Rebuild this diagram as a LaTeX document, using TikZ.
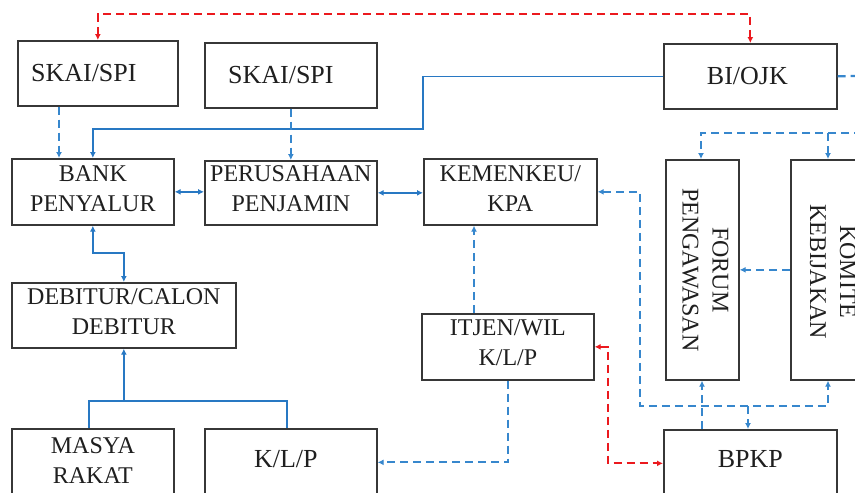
\documentclass[tikz,border=0pt]{standalone}
\usepackage{fontspec}
\setmainfont{Liberation Serif}
\usetikzlibrary{arrows.meta,calc}
\definecolor{lnblue}{RGB}{40,120,195}
\definecolor{lndash}{RGB}{55,135,205}
\definecolor{lnred}{RGB}{235,25,30}
\definecolor{bxgray}{RGB}{55,55,55}
\begin{document}
\begin{tikzpicture}[x=1pt,y=-1pt,
  box/.style={draw=bxgray, line width=1.7pt, inner sep=0pt, anchor=north west, fill=white},
  txt/.style={font=\fontsize{24}{30}\selectfont, align=center, text=black!88, inner sep=0pt},
  big/.style={font=\fontsize{26}{30}\selectfont},
  bsolid/.style={draw=lnblue, line width=1.7pt},
  bdash/.style={draw=lndash, line width=2.2pt, dash pattern=on 8pt off 5pt},
  rdash/.style={draw=lnred, line width=2pt, dash pattern=on 8pt off 5pt},
  tip/.style={>={Latex[length=6pt,width=6pt]}}
]
\useasboundingbox (0,0) rectangle (855,493);
\clip (0,0) rectangle (855,493);
\fill[white] (0,0) rectangle (855,493);

% boxes
\node[box, minimum width=160pt, minimum height=65pt] (skaiA) at (17,40) {};
\node[box, minimum width=172pt, minimum height=65pt] (skaiB) at (204,42) {};
\node[box, minimum width=173pt, minimum height=65pt] (biojk) at (663,43) {};
\node[box, minimum width=162pt, minimum height=66pt] (bank) at (11,158) {};
\node[box, minimum width=172pt, minimum height=64pt] (perus) at (204,160) {};
\node[box, minimum width=173pt, minimum height=66pt] (kemen) at (423,158) {};
\node[box, minimum width=73pt, minimum height=220pt] (forum) at (665,159) {};
\node[box, minimum width=74pt, minimum height=220pt] (komite) at (790,159) {};
\node[box, minimum width=224pt, minimum height=65pt] (debitur) at (11,282) {};
\node[box, minimum width=172pt, minimum height=66pt] (itjen) at (421,313) {};
\node[box, minimum width=162pt, minimum height=67pt] (masya) at (11,428) {};
\node[box, minimum width=172pt, minimum height=67pt] (klp) at (204,428) {};
\node[box, minimum width=173pt, minimum height=67pt] (bpkp) at (663,429) {};

% texts
\node[txt,big] (tskaiA) at ([xshift=-14pt]skaiA.center) {SKAI/SPI};
\node[txt,big] (tskaiB) at ([xshift=-10pt]skaiB.center) {SKAI/SPI};
\node[txt,big] (tbiojk) at ([xshift=-3pt]biojk.center) {BI/OJK};
\node[txt] (tbank) at ([yshift=3pt]bank.center) {BANK\\PENYALUR};
\node[txt] (tperus) at ([yshift=4pt]perus.center) {PERUSAHAAN\\PENJAMIN};
\node[txt] (tkemen) at ([yshift=3pt]kemen.center) {KEMENKEU/\\KPA};
\node[txt, rotate=-90] (tforum) at ([xshift=3pt]forum.center) {FORUM\\PENGAWASAN};
\node[txt, rotate=-90] (tkomite) at ([xshift=5pt,yshift=-2pt]komite.center) {KOMITE\\KEBIJAKAN};
\node[txt] (tdeb) at ([yshift=4pt]debitur.center) {DEBITUR/CALON\\DEBITUR};
\node[txt] (titjen) at ([yshift=4pt]itjen.center) {ITJEN/WIL\\K/L/P};
\node[txt] (tmasya) at ([yshift=2pt]masya.center) {MASYA\\RAKAT};
\node[txt,big] (tklp) at ([xshift=-5pt,yshift=3pt]klp.center) {K/L/P};
\node[txt,big] (tbpkp) at ([yshift=4pt]bpkp.center) {BPKP};

% helper coordinates
\coordinate (rtop) at (400,14);
\coordinate (j1) at (423,129);
\coordinate (bioff) at (875,75.5);
\coordinate (xa) at (59,0);
\coordinate (j2) at (110,253);
\coordinate (j3) at (debitur.south |- 0,401);
\coordinate (xm) at (89,0);
\coordinate (xl) at (287,0);
\coordinate (xk) at (474,0);
\coordinate (j4) at (608,400);
\coordinate (toff) at (875,133);
\coordinate (t1) at (701,133);
\coordinate (t2) at (828,133);
\coordinate (b1) at (640,406);
\coordinate (b2) at (828,406);
\coordinate (xf) at (702,0);
\coordinate (xb) at (748,406);

\begin{scope}[tip]
% red dashed
\draw[rdash,<->] (skaiA.north) |- (rtop) -| (biojk.north);
\draw[rdash,<->] (itjen.east) -| (j4) |- (bpkp.west);

% blue solid
\draw[bsolid,->] (biojk.west) -| (j1) -| (bank.north);
\draw[bsolid,<->] (bank.east) -- (perus.west |- bank.east);
\draw[bsolid,<->] (perus.east) -- (kemen.west |- perus.east);
\draw[bsolid,<->] (bank.south) |- (j2) -| (debitur.north);
\draw[bsolid] (masya.north -| xm) |- (j3) -| (klp.north -| xl);
\draw[bsolid,->] (j3) -- (debitur.south);

% blue dashed
\draw[bdash] (biojk.east) -- (bioff);
\draw[bdash,->] (skaiA.south -| xa) -- (bank.north -| xa);
\draw[bdash,->] (skaiB.south) -- (perus.north);
\draw[bdash,->] (itjen.south) |- (klp.east);
\draw[bdash,->] (itjen.north -| xk) -- (kemen.south -| xk);
\draw[bdash,->] (toff) -| (forum.north -| t1);
\draw[bdash,->] (t2) -- (komite.north -| t2);
\draw[bdash,->] (komite.west) -- (forum.east);
\draw[bdash,<->] (kemen.east) -| (b1) -| (komite.south -| b2);
\draw[bdash,->] (bpkp.north -| xf) -- (forum.south -| xf);
\draw[bdash,->] (xb) -- (bpkp.north -| xb);
\end{scope}
\end{tikzpicture}
\end{document}
